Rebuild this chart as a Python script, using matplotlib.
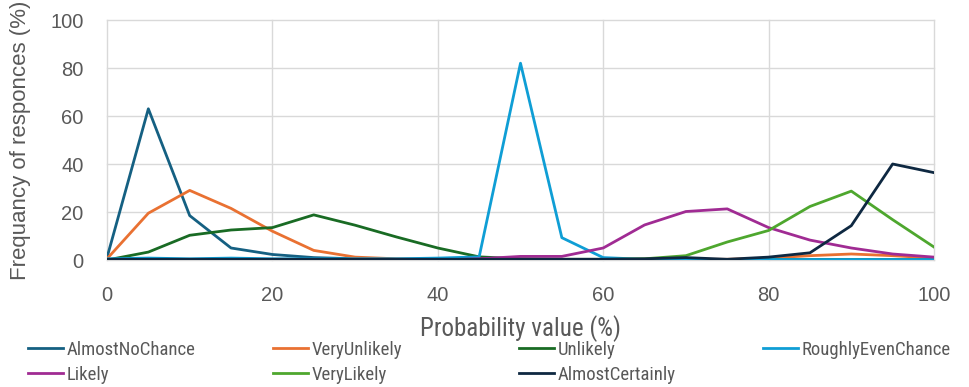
import matplotlib
matplotlib.use('Agg')
import matplotlib.pyplot as plt
from matplotlib import font_manager
from matplotlib.lines import Line2D

# probability values on x
prob = [0, 5, 10, 15, 20, 25, 30, 35, 40, 45, 50, 55, 60, 65, 70, 75, 80, 85, 90, 95, 100]

almost_no_chance = [1, 63, 18.5, 5, 2.3, 1, 0.5, 0.3, 0.2, 0.2, 0.1, 0.1, 0.1, 0, 0, 0, 0, 0, 0, 0, 0]
very_unlikely = [0.5, 19.5, 29, 21.5, 12, 4, 1.2, 0.5, 0.3, 0.3, 0.2, 0.2, 0.2, 0.2, 0.3, 0.3, 0.8, 1.8, 2.5, 1.8, 0.8]
unlikely = [0, 3.3, 10.3, 12.5, 13.5, 18.8, 14.5, 9.6, 5, 1.3, 0.5, 0.3, 0.3, 0.2, 0.2, 0.2, 0.2, 0.2, 0.2, 0.2, 0.2]
roughly_even = [0.5, 0.8, 0.5, 0.8, 0.5, 0.5, 0.5, 0.5, 0.8, 1.3, 82, 9.3, 1, 0.3, 0.2, 0.2, 0.2, 0.2, 0.2, 0.2, 0.2]
likely = [0, 0, 0, 0, 0, 0, 0, 0, 0, 0.5, 1.5, 1.5, 5, 14.6, 20.2, 21.3, 13.5, 8.3, 5, 2.5, 1.2]
very_likely = [0, 0, 0, 0, 0, 0, 0, 0, 0, 0, 0, 0, 0.2, 0.5, 1.8, 7.5, 12.3, 22.3, 28.7, 16.8, 5.4]
almost_certainly = [0.3, 0.3, 0.3, 0.3, 0.3, 0.3, 0.3, 0.3, 0.3, 0.3, 0.3, 0.3, 0.3, 0.5, 1, 0.3, 1.2, 3, 14.3, 40, 36.4]

names = ['AlmostNoChance', 'VeryUnlikely', 'Unlikely', 'RoughlyEvenChance',
         'Likely', 'VeryLikely', 'AlmostCertainly']
series = [almost_no_chance, very_unlikely, unlikely, roughly_even,
          likely, very_likely, almost_certainly]
colors = ['#156082', '#E97132', '#196B24', '#0F9ED5', '#A02B93', '#4EA72E', '#0E2841']

plt.rcParams['font.family'] = ['Liberation Sans', 'DejaVu Sans']
grey = '#595959'

# narrow font for legend / x label, if one is around
installed = {f.name for f in font_manager.fontManager.ttflist}
narrow = 'DejaVu Sans'
for cand in ['Liberation Sans Narrow', 'DejaVu Sans Condensed', 'Roboto Condensed', 'Lato']:
    if cand in installed:
        narrow = cand
        break

fig = plt.figure(figsize=(9.69, 3.87), dpi=100)
ax = fig.add_axes([107 / 969, 1 - 260 / 387, 827 / 969, 240 / 387])

for ys, c, n in zip(series, colors, names):
    ax.plot(prob, ys, color=c, lw=2.0, label=n)

ax.set_xlim(0, 100)
ax.set_ylim(0, 100)
ax.set_xticks(range(0, 101, 20))
ax.set_yticks(range(0, 101, 20))
ax.grid(True, color='#d9d9d9', lw=1.0)
for gl in ax.get_xgridlines() + ax.get_ygridlines():
    gl.set_clip_on(False)
ax.set_axisbelow(True)
for s in ax.spines.values():
    s.set_visible(False)
ax.tick_params(length=0, labelsize=14.5, colors=grey)
ax.tick_params(axis='x', pad=19)
ax.tick_params(axis='y', pad=17)
ax.set_ylabel('Frequancy of responces (%)', fontsize=16, color=grey, labelpad=14)
ax.set_xlabel('Probability value (%)', fontsize=18, color=grey, labelpad=7, family=narrow)

# legend: four columns placed at fixed x positions
col_x = [28, 273, 519, 763]
for ci, x in enumerate(col_x):
    idx = [i for i in (ci, ci + 4) if i < len(names)]
    hs = [Line2D([], [], color=colors[i], lw=2.0) for i in idx]
    fig.legend(hs, [names[i] for i in idx], loc='upper left',
               bbox_to_anchor=(x / 969, 1 - 341 / 387), frameon=False,
               handlelength=1.85, handletextpad=0.2, labelspacing=0.36,
               borderaxespad=0.0, borderpad=0.0,
               prop={'family': narrow, 'size': 13.5},
               labelcolor=grey)

fig.savefig('out.png', dpi=100)
